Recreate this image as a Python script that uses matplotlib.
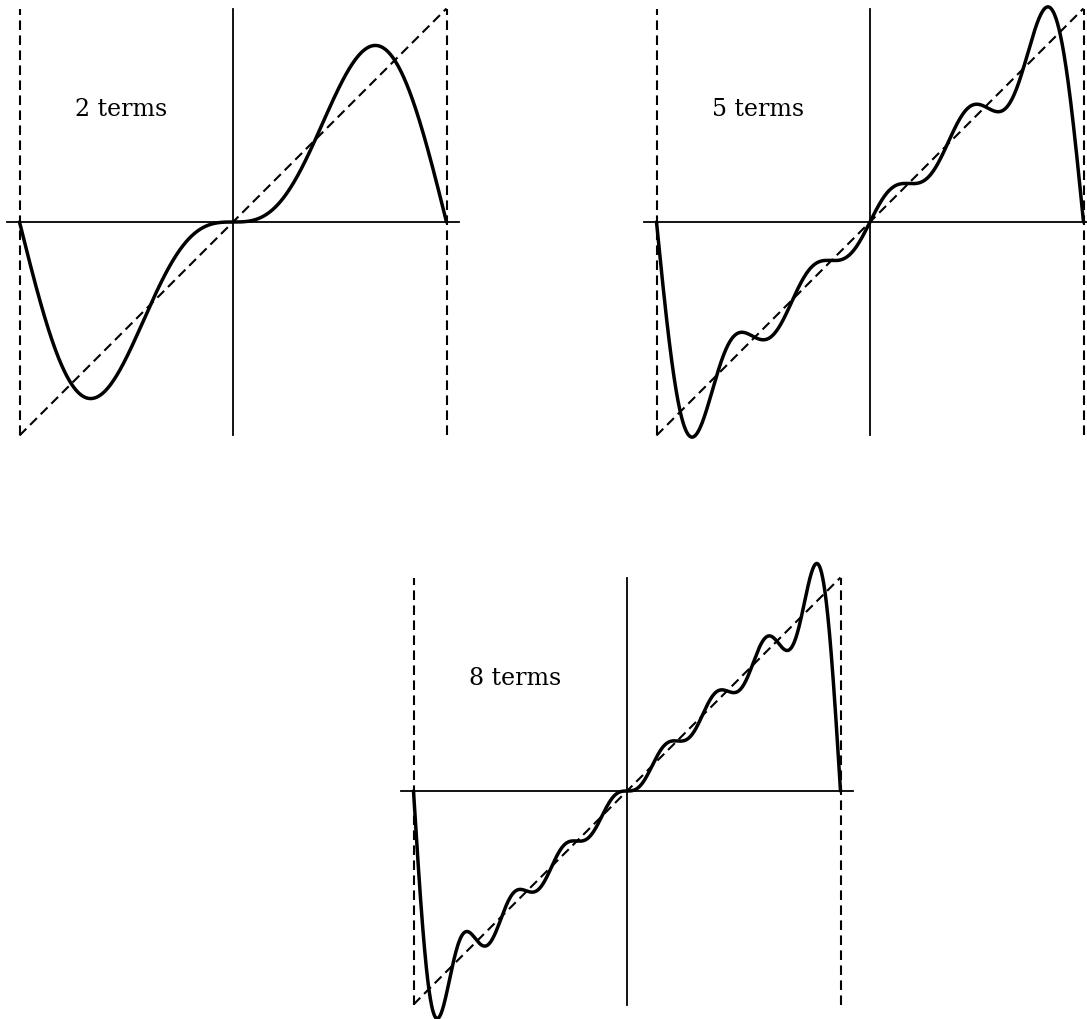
import numpy as np
import matplotlib
matplotlib.use("Agg")
import matplotlib.pyplot as plt

# Fourier sine coefficients of f(x) = x on [-pi, pi], one list per panel
labels = ["2 terms", "5 terms", "8 terms"]
coef_2 = [2.0, -1.0]
coef_5 = [2.0, -1.0, 0.6667, -0.5, 0.4]
coef_8 = [2.0, -1.0, 0.6667, -0.5, 0.4, -0.3333, 0.2857, -0.25]
all_coefs = [coef_2, coef_5, coef_8]

W, H = 1087, 1019
PX = 213.5 / np.pi          # pixels per data unit
HALF = 240                  # half size of each axes box in pixels
centers = [(233, 222), (870, 222), (627, 791)]   # pixel centre of each origin

fig = plt.figure(figsize=(W / 100, H / 100), dpi=100)


def partial_sum(coefs, x):
    y = np.zeros_like(x)
    for n, b in enumerate(coefs, start=1):
        y += b * np.sin(n * x)
    return y


x = np.linspace(-np.pi, np.pi, 1200)
lim = HALF / PX

for (cx, cy), coefs, lab in zip(centers, all_coefs, labels):
    ax = fig.add_axes([(cx - HALF) / W, 1 - (cy + HALF) / H, 2 * HALF / W, 2 * HALF / H])
    ax.set_xlim(-lim, lim)
    ax.set_ylim(-lim, lim)
    ax.axis("off")

    # axes through the origin
    ax.plot([-3.33, 3.33], [0, 0], color="black", lw=1.3, clip_on=False)
    ax.plot([0, 0], [-np.pi, np.pi], color="black", lw=1.3, clip_on=False)

    # dashed bounds and the target line y = x
    dash = dict(color="black", lw=1.5, linestyle=(0, (4.6, 2.6)), clip_on=False)
    ax.plot([-np.pi, -np.pi], [-np.pi, np.pi], **dash)
    ax.plot([np.pi, np.pi], [-np.pi, np.pi], **dash)
    ax.plot([-np.pi, np.pi], [-np.pi, np.pi], **dash)

    ax.plot(x, partial_sum(coefs, x), color="black", lw=2.5,
            solid_capstyle="round", clip_on=False)

    ax.text(-1.65, 1.65, lab, family="DejaVu Serif", fontsize=17,
            ha="center", va="center")

fig.savefig("out.png", dpi=100)
